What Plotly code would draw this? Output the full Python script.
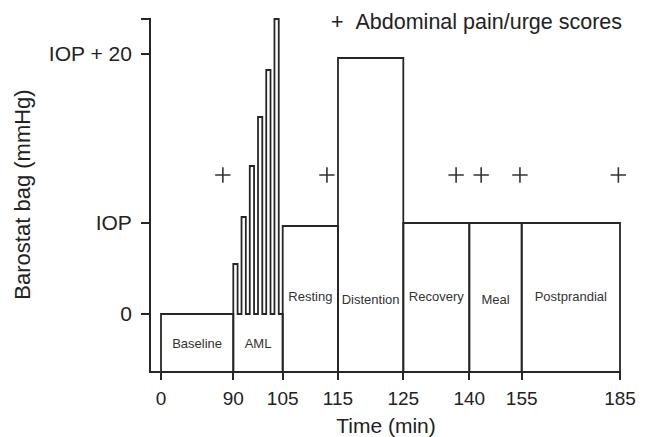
import numpy as np
import plotly.graph_objects as go

# ---------------- data ----------------
phases = ["Baseline", "AML", "Resting", "Distention", "Recovery", "Meal", "Postprandial"]
phase_start = [0, 90, 105, 115, 125, 140, 155]          # min
phase_end = [90, 105, 115, 125, 140, 155, 185]          # min
phase_level = [0.0, 0.0, 8.8, 25.6, 9.1, 9.1, 9.1]      # schematic bag pressure level

aml_step_start = [90, 92.5, 95, 97.5, 100, 102.5]       # min
aml_step_duration = 1.3                                 # min
aml_step_level = [5.0, 9.7, 14.8, 19.7, 24.4, 29.5]     # schematic level

score_times = [77, 113, 137, 143.4, 154.5, 184.5]       # min
score_level = 13.9

time_ticks = [0, 90, 105, 115, 125, 140, 155, 185]
pressure_tick_vals = [0.0, 9.1, 26.0, 29.5]
pressure_tick_text = ["0", "IOP", "IOP + 20", ""]

# ---------------- schematic (non-linear) time axis ----------------
time_tick_pos = [0, 72.3, 121.7, 177, 242.3, 308.3, 360.7, 459]


def xmap(m):
    return np.interp(m, time_ticks, time_tick_pos)


Y_MIN, Y_MAX = -5.7, 29.6
LINE = dict(color="#262626", width=1.8)
FONT = "Liberation Sans, Arial, sans-serif"

fig = go.Figure()

# phase boxes
xs, ys = [], []
for name, s, e, lev in zip(phases, phase_start, phase_end, phase_level):
    x0, x1 = float(xmap(s)), float(xmap(e))
    if name == "AML":
        px = [x0]
        py = [Y_MIN]
        for st, lv in zip(aml_step_start, aml_step_level):
            a, b = float(xmap(st)), float(xmap(st + aml_step_duration))
            px += [a, a, b, b]
            py += [lev, lv, lv, lev]
        px += [x1, x1]
        py += [lev, Y_MIN]
        xs += px + [None]
        ys += py + [None]
    else:
        xs += [x0, x0, x1, x1, None]
        ys += [Y_MIN, lev, lev, Y_MIN, None]

fig.add_trace(go.Scatter(x=xs, y=ys, mode="lines", line=LINE,
                         hoverinfo="skip", showlegend=False))

# phase labels
label_offset = [-3.1, -3.1, 1.6, 1.3, 1.6, 1.3, 1.6]
fig.add_trace(go.Scatter(
    x=[float(xmap((s + e) / 2)) for s, e in zip(phase_start, phase_end)],
    y=label_offset,
    mode="text", text=phases,
    textfont=dict(family=FONT, size=13, color="#333333"),
    hoverinfo="skip", showlegend=False))

# abdominal pain / urge score markers
fig.add_trace(go.Scatter(
    x=[float(xmap(t)) for t in score_times],
    y=[score_level] * len(score_times),
    mode="markers", cliponaxis=False,
    marker=dict(symbol="cross-thin", size=11, line=dict(color="#333333", width=1.6)),
    showlegend=False, hoverinfo="skip"))

fig.add_annotation(
    xref="paper", yref="paper", x=1.006, y=0.99,
    xanchor="right", yanchor="middle", showarrow=False,
    text="+&nbsp;&nbsp;Abdominal pain/urge scores",
    font=dict(family=FONT, size=21.5, color="#222222"))

fig.update_layout(
    width=650, height=437,
    margin=dict(l=151, r=29, t=18, b=66),
    paper_bgcolor="white", plot_bgcolor="white",
    font=dict(family=FONT, color="#222222"),
    xaxis=dict(
        range=[-10, 460], showgrid=False, zeroline=False, automargin=False,
        showline=True, linecolor="#262626", linewidth=1.8,
        tickmode="array", tickvals=[float(xmap(t)) for t in time_ticks],
        ticktext=[str(t) for t in time_ticks],
        ticks="outside", ticklen=7, tickwidth=1.5, tickcolor="#262626",
        ticklabelstandoff=2,
        tickfont=dict(family=FONT, size=19, color="#222222"),
        title=dict(text="Time (min)", font=dict(family=FONT, size=21, color="#222222"), standoff=14),
    ),
    yaxis=dict(
        range=[Y_MIN, Y_MAX], showgrid=False, zeroline=False, automargin=False,
        showline=True, linecolor="#262626", linewidth=1.8,
        tickmode="array", tickvals=pressure_tick_vals, ticktext=pressure_tick_text,
        ticks="outside", ticklen=8, tickwidth=1.5, tickcolor="#262626",
        ticklabelstandoff=5,
        tickfont=dict(family=FONT, size=21, color="#222222"),
        title=dict(text="Barostat bag (mmHg)", font=dict(family=FONT, size=22, color="#222222"), standoff=12),
    ),
)

fig.write_html("out.html")
